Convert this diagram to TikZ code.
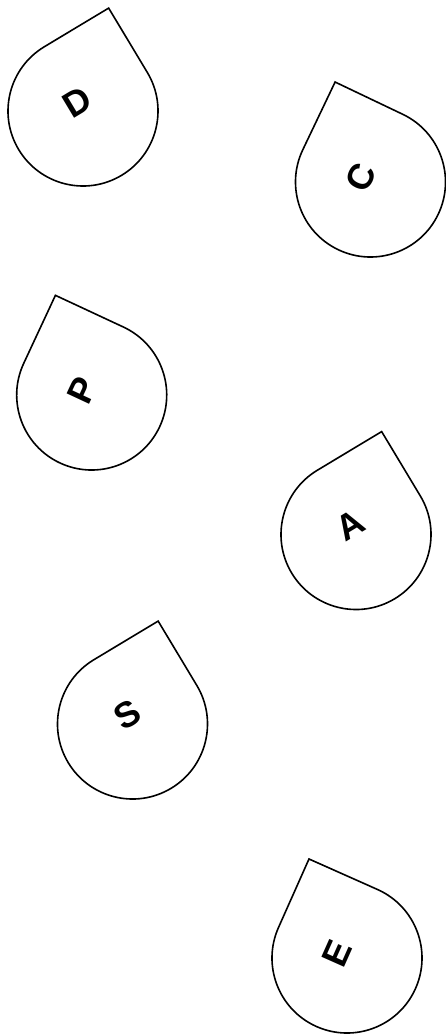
\documentclass[tikz,border=0pt]{standalone}
\usepackage{fontspec}
\setmainfont{Liberation Sans}
\tikzset{
  dropshape/.style={draw=black, line width=1.6pt, fill=white, line join=miter},
  droplabel/.style={transform shape, anchor=base, inner sep=0pt, yshift=-2pt, font=\bfseries\fontsize{36}{40}\selectfont}
}
\newcommand{\teardrop}[5]{% name, x, y, angle, letter
  \begin{scope}[shift={(#2pt,-#3pt)}, rotate=#4]
    \draw[dropshape] (0pt,75pt) arc[start angle=90, end angle=360, radius=75pt] -- (75pt,75pt) -- cycle;
    \node[droplabel] (#1) at (0,0) {#5};
  \end{scope}}
\begin{document}
\begin{tikzpicture}
  \useasboundingbox (0,0) rectangle (445pt,-1034pt);
  \teardrop{d}{83}{111}{31}{D}
  \teardrop{c}{370.5}{182}{64.5}{C}
  \teardrop{p}{91.7}{395}{65}{P}
  \teardrop{a}{356}{534.5}{31}{A}
  \teardrop{s}{132.5}{724}{31}{S}
  \teardrop{e}{347}{958}{66}{E}
\end{tikzpicture}
\end{document}
